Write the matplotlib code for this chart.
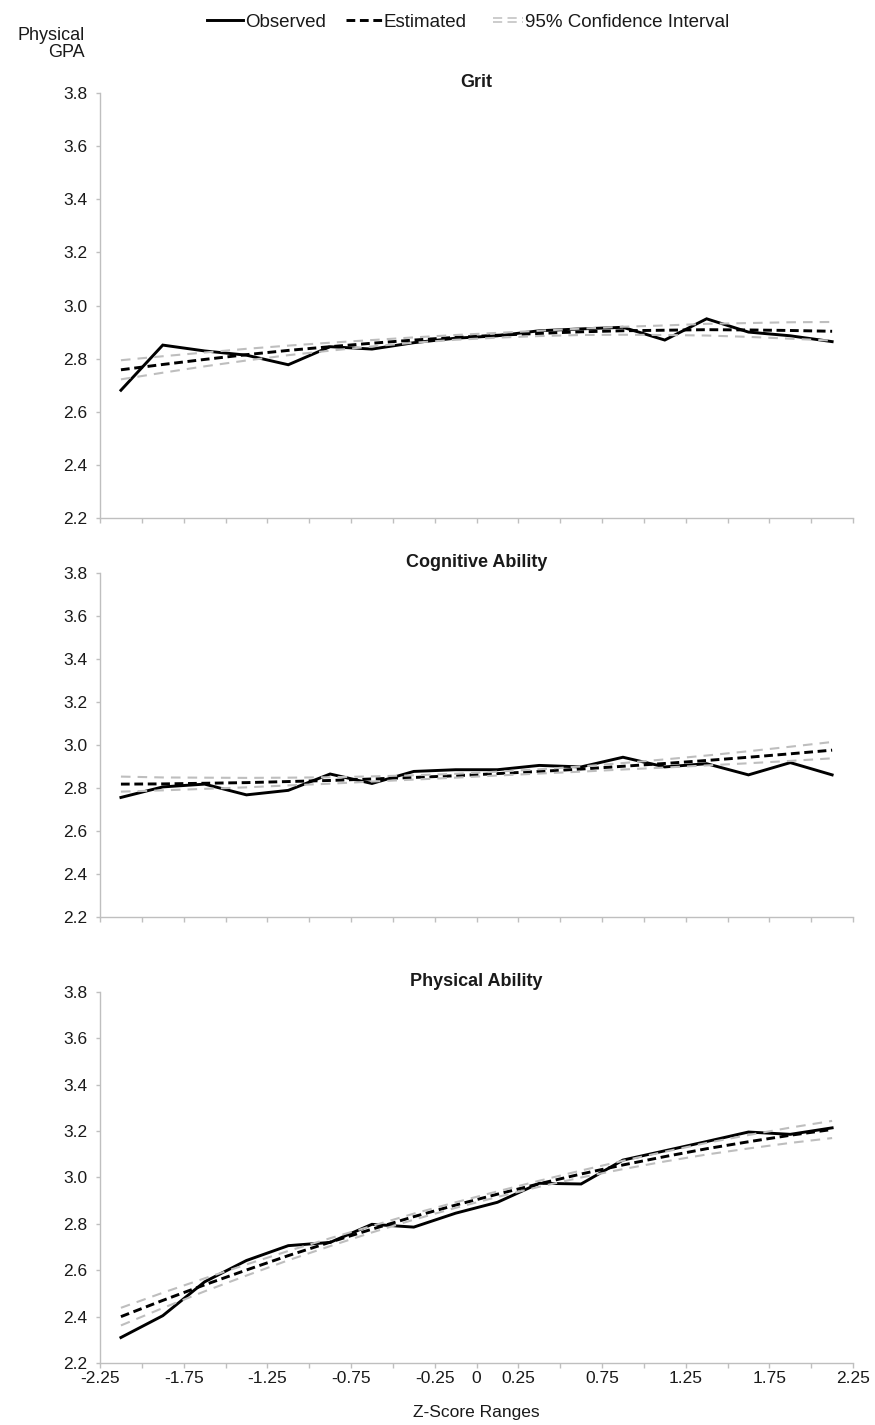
import matplotlib
matplotlib.use("Agg")
import matplotlib.pyplot as plt
from matplotlib.lines import Line2D
from matplotlib.legend_handler import HandlerBase

plt.rcParams['font.family'] = ['Liberation Sans', 'DejaVu Sans']

# ---------------- data ----------------
z_mid = [-2.125, -1.875, -1.625, -1.375, -1.125, -0.875, -0.625, -0.375, -0.125,
         0.125, 0.375, 0.625, 0.875, 1.125, 1.375, 1.625, 1.875, 2.125]

x_tick_pos = [-2.25, -2.0, -1.75, -1.5, -1.25, -1.0, -0.75, -0.5, -0.25, 0.0,
              0.25, 0.5, 0.75, 1.0, 1.25, 1.5, 1.75, 2.0, 2.25]
x_tick_labels = ["-2.25", "", "-1.75", "", "-1.25", "", "-0.75", "", "-0.25", "0",
                 "0.25", "", "0.75", "", "1.25", "", "1.75", "", "2.25"]
y_ticks = [2.2, 2.4, 2.6, 2.8, 3.0, 3.2, 3.4, 3.6, 3.8]

panel_titles = ["Grit", "Cognitive Ability", "Physical Ability"]

grit_obs = [2.681, 2.851, 2.829, 2.813, 2.777, 2.845, 2.836, 2.860, 2.877,
            2.886, 2.905, 2.912, 2.918, 2.870, 2.950, 2.900, 2.886, 2.864]
grit_est = [2.758, 2.778, 2.797, 2.815, 2.831, 2.845, 2.858, 2.870, 2.880,
            2.888, 2.895, 2.901, 2.905, 2.907, 2.909, 2.908, 2.906, 2.903]
grit_up = [2.794, 2.809, 2.823, 2.837, 2.849, 2.860, 2.870, 2.880, 2.889,
           2.897, 2.905, 2.913, 2.920, 2.925, 2.931, 2.934, 2.937, 2.938]
grit_lo = [2.722, 2.747, 2.771, 2.793, 2.813, 2.830, 2.846, 2.860, 2.871,
           2.879, 2.885, 2.889, 2.890, 2.889, 2.887, 2.882, 2.875, 2.868]

cog_obs = [2.756, 2.805, 2.818, 2.768, 2.789, 2.865, 2.821, 2.877, 2.885,
           2.885, 2.905, 2.898, 2.943, 2.898, 2.913, 2.861, 2.918, 2.861]
cog_est = [2.818, 2.819, 2.822, 2.825, 2.830, 2.835, 2.842, 2.849, 2.857,
           2.867, 2.877, 2.888, 2.901, 2.914, 2.928, 2.943, 2.959, 2.976]
cog_up = [2.853, 2.849, 2.848, 2.847, 2.848, 2.850, 2.854, 2.859, 2.866,
          2.876, 2.887, 2.900, 2.916, 2.933, 2.951, 2.971, 2.992, 3.014]
cog_lo = [2.783, 2.789, 2.796, 2.803, 2.812, 2.820, 2.830, 2.839, 2.848,
          2.858, 2.867, 2.876, 2.886, 2.895, 2.905, 2.915, 2.926, 2.938]

phys_obs = [2.310, 2.404, 2.550, 2.642, 2.706, 2.720, 2.798, 2.786, 2.846,
            2.893, 2.975, 2.972, 3.075, 3.115, 3.155, 3.196, 3.186, 3.214]
phys_est = [2.400, 2.470, 2.537, 2.601, 2.663, 2.721, 2.777, 2.831, 2.881,
            2.928, 2.973, 3.015, 3.054, 3.090, 3.124, 3.154, 3.182, 3.207]
phys_up = [2.438, 2.503, 2.565, 2.625, 2.683, 2.738, 2.791, 2.844, 2.893,
           2.940, 2.986, 3.030, 3.072, 3.111, 3.149, 3.183, 3.215, 3.244]
phys_lo = [2.362, 2.437, 2.509, 2.577, 2.643, 2.704, 2.763, 2.818, 2.869,
           2.916, 2.960, 3.000, 3.036, 3.069, 3.099, 3.125, 3.149, 3.170]

series = [(grit_obs, grit_est, grit_up, grit_lo),
          (cog_obs, cog_est, cog_up, cog_lo),
          (phys_obs, phys_est, phys_up, phys_lo)]

# ---------------- style ----------------
AX_GREY = '#BFBFBF'
CI_GREY = '#BEBEBE'
TXT = '#1a1a1a'
FS = 12.5
FS_LEG = 13.5
FS_TITLE = 13

fig = plt.figure(figsize=(8.75, 14.25), dpi=100)
positions = [
    [0.1143, 0.6365, 0.8606, 0.2982],
    [0.1143, 0.3565, 0.8606, 0.2414],
    [0.1143, 0.0435, 0.8606, 0.2604],
]

est_style = dict(color='black', lw=2.1, linestyle=(0, (3.0, 1.6)), dash_capstyle='butt')
ci_style = dict(color=CI_GREY, lw=1.5, linestyle=(0, (4.6, 3.4)), dash_capstyle='butt')
obs_style = dict(color='black', lw=2.1, solid_joinstyle='miter')

for i, (pos, title, (obs, est, up, lo)) in enumerate(zip(positions, panel_titles, series)):
    ax = fig.add_axes(pos)
    ax.plot(z_mid, obs, **obs_style, zorder=3)
    ax.plot(z_mid, est, **est_style, zorder=4)
    ax.plot(z_mid, up, **ci_style, zorder=5)
    ax.plot(z_mid, lo, **ci_style, zorder=5)

    ax.set_xlim(-2.25, 2.25)
    ax.set_ylim(2.2, 3.8)
    ax.set_yticks(y_ticks)
    ax.set_yticklabels([f"{v:.1f}" for v in y_ticks])
    ax.set_xticks(x_tick_pos)
    if i == 2:
        ax.set_xticklabels(x_tick_labels)
        ax.set_xlabel("Z-Score Ranges", fontsize=FS, color=TXT, labelpad=14)
    else:
        ax.set_xticklabels([])

    for s in ['top', 'right']:
        ax.spines[s].set_visible(False)
    for s in ['left', 'bottom']:
        ax.spines[s].set_color(AX_GREY)
        ax.spines[s].set_linewidth(1.0)
    ax.tick_params(axis='both', colors=AX_GREY, labelcolor=TXT, labelsize=FS,
                   width=1.0, direction='out')
    ax.tick_params(axis='y', length=3, pad=6)
    ax.tick_params(axis='x', length=3.6, pad=2)
    ax.set_title(title, fontsize=FS_TITLE, fontweight='bold', color=TXT, pad=4)

# y-axis label at top-left
fig.text(85 / 875, 1 - 44 / 1425, "Physical\nGPA", ha='right', va='center',
         fontsize=13, color=TXT, linespacing=1.05)


class HandlerDoubleDash(HandlerBase):
    def create_artists(self, legend, orig_handle, xdescent, ydescent, width, height,
                       fontsize, trans):
        y0 = height / 2.0 - ydescent
        arts = []
        for dy in (-1.5, 1.5):
            ln = Line2D([-xdescent + width * 0.15, width - xdescent], [y0 + dy, y0 + dy],
                        color=CI_GREY, lw=1.1, linestyle=(0, (6.0, 3.5)),
                        dash_capstyle='butt', transform=trans)
            arts.append(ln)
        return arts


# legend
h_obs = Line2D([], [], **obs_style)
h_est = Line2D([], [], **est_style)
h_ci = Line2D([], [], color=CI_GREY)
fig.legend([h_obs, h_est, h_ci], ["Observed", "Estimated", "95% Confidence Interval"],
           loc='center', bbox_to_anchor=(0.535, 1 - 22 / 1425), ncol=3, frameon=False,
           fontsize=FS_LEG, handlelength=1.9, handletextpad=0.1, columnspacing=1.1,
           labelcolor=TXT, handler_map={h_ci: HandlerDoubleDash()})

fig.savefig("out.png", dpi=100)
